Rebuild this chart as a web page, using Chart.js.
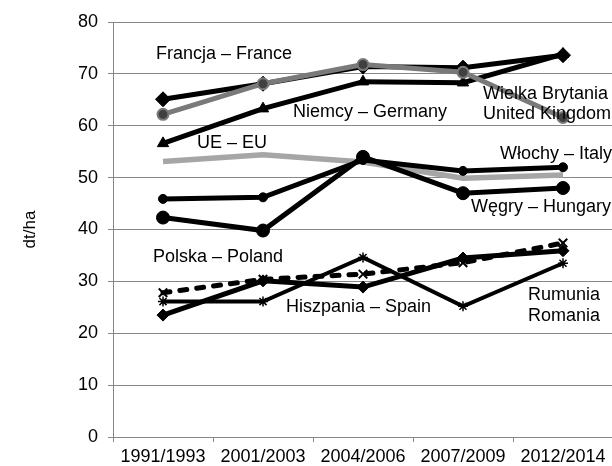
<!DOCTYPE html>
<html>
<head>
<meta charset="utf-8">
<script src="https://cdn.jsdelivr.net/npm/chart.js@4/dist/chart.umd.min.js"></script>
<style>
    html, body { margin: 0; padding: 0; overflow: hidden; background: #fff; }
    #wrap { width: 700px; height: 466px; }
</style>
</head>
<body>
<div id="wrap"><canvas id="yieldChart" width="700" height="466"></canvas></div>
<script>
// Yields, dt/ha
const periods = ['1991/1993', '2001/2003', '2004/2006', '2007/2009', '2012/2014'];
const france = [65.1, 68.1, 71.4, 71.2, 73.6];
const unitedKingdom = [62.2, 68.1, 71.8, 70.3, 61.6];
const germany = [56.6, 63.3, 68.5, 68.3, 73.8];
const eu = [53.1, 54.4, 53.0, 49.9, 50.5];
const italy = [45.9, 46.2, 53.4, 51.3, 52.0];
const hungary = [42.3, 39.8, 54.0, 47.0, 48.0];
const poland = [27.8, 30.4, 31.4, 33.6, 37.4];
const spain = [26.1, 26.1, 34.6, 25.2, 33.5];
const romania = [23.5, 30.1, 28.9, 34.5, 35.9];
const yMin = 0, yMax = 80, yStep = 10;

// Series labels, anchored at (category index, value)
const seriesNotes = [
    { text: 'Francja – France', at: [-0.07, 73.8] },
    { text: 'Niemcy – Germany', at: [1.30, 62.6] },
    { text: 'UE – EU', at: [0.34, 56.7] },
    { text: 'Wielka Brytania', at: [3.20, 66.2] },
    { text: 'United Kingdom', at: [3.20, 62.3] },
    { text: 'Włochy – Italy', at: [3.37, 54.6] },
    { text: 'Węgry – Hungary', at: [3.08, 44.3] },
    { text: 'Polska – Poland', at: [-0.10, 34.6] },
    { text: 'Hiszpania – Spain', at: [1.23, 25.0] },
    { text: 'Rumunia', at: [3.65, 27.4] },
    { text: 'Romania', at: [3.65, 23.3] }
];

const FONT = "'Liberation Sans', Arial, sans-serif";
const AXIS = '#878787';

function line(label, data, opts) {
    return Object.assign({
        label: label,
        data: data,
        borderColor: '#000',
        backgroundColor: '#000',
        borderWidth: 5,
        pointBorderWidth: 1,
        pointRadius: 6,
        tension: 0,
        fill: false
    }, opts);
}

// Draw the series labels
const notesPlugin = {
    id: 'notes',
    afterDatasetsDraw(chart) {
        const ctx = chart.ctx;
        const x = chart.scales.x, y = chart.scales.y;
        ctx.save();
        ctx.font = '18px ' + FONT;
        ctx.fillStyle = '#000';
        ctx.textAlign = 'left';
        ctx.textBaseline = 'middle';
        seriesNotes.forEach(n => {
            ctx.fillText(n.text, x.getPixelForValue(n.at[0]), y.getPixelForValue(n.at[1]));
        });
        ctx.restore();
    }
};

new Chart(document.getElementById('yieldChart'), {
    type: 'line',
    data: {
        labels: periods,
        datasets: [
            line('Węgry – Hungary', hungary, { pointStyle: 'circle', pointRadius: 6.5, order: 0 }),
            line('Włochy – Italy', italy, { pointStyle: 'circle', pointRadius: 4.5, order: 1 }),
            line('UE – EU', eu, { borderColor: '#a6a6a6', borderWidth: 5.5, pointRadius: 0, order: 2 }),
            line('Wielka Brytania – United Kingdom', unitedKingdom, {
                borderColor: '#7a7a7a', backgroundColor: '#404040', pointBorderColor: '#7a7a7a',
                pointBorderWidth: 2, pointStyle: 'circle', pointRadius: 5.5, order: 3
            }),
            line('Francja – France', france, { pointStyle: 'rectRot', pointRadius: 7.5, order: 4 }),
            line('Niemcy – Germany', germany, { pointStyle: 'triangle', pointRadius: 6.5, order: 5 }),
            line('Polska – Poland', poland, {
                borderDash: [7, 10], borderCapStyle: 'round', pointStyle: 'crossRot',
                pointRadius: 6, pointBorderWidth: 2, order: 6
            }),
            line('Hiszpania – Spain', spain, { borderWidth: 4, pointStyle: 'star', pointRadius: 5, pointBorderWidth: 1.5, order: 7 }),
            line('Rumunia – Romania', romania, { pointStyle: 'rectRot', pointRadius: 6, order: 8 })
        ]
    },
    options: {
        responsive: false,
        devicePixelRatio: 1,
        animation: false,
        layout: { padding: { left: 0, top: 22, right: 87, bottom: 0 } },
        plugins: {
            legend: { display: false },
            tooltip: { enabled: false }
        },
        scales: {
            x: {
                offset: true,
                grid: { offset: true, drawOnChartArea: false, color: AXIS, tickLength: 5 },
                border: { color: AXIS, width: 1 },
                ticks: { color: '#000', font: { family: FONT, size: 18 }, padding: 4, maxRotation: 0, autoSkip: false },
                afterFit: s => { s.height = 29; }
            },
            y: {
                min: yMin,
                max: yMax,
                grid: { color: AXIS, tickLength: 5 },
                border: { color: AXIS, width: 1 },
                ticks: { stepSize: yStep, color: '#000', font: { family: FONT, size: 18 }, padding: 10 },
                title: { display: true, text: 'dt/ha', color: '#000', font: { family: FONT, size: 17 }, padding: { top: 20 } },
                afterFit: s => { s.width = 113; }
            }
        }
    },
    plugins: [notesPlugin]
});
</script>
</body>
</html>
